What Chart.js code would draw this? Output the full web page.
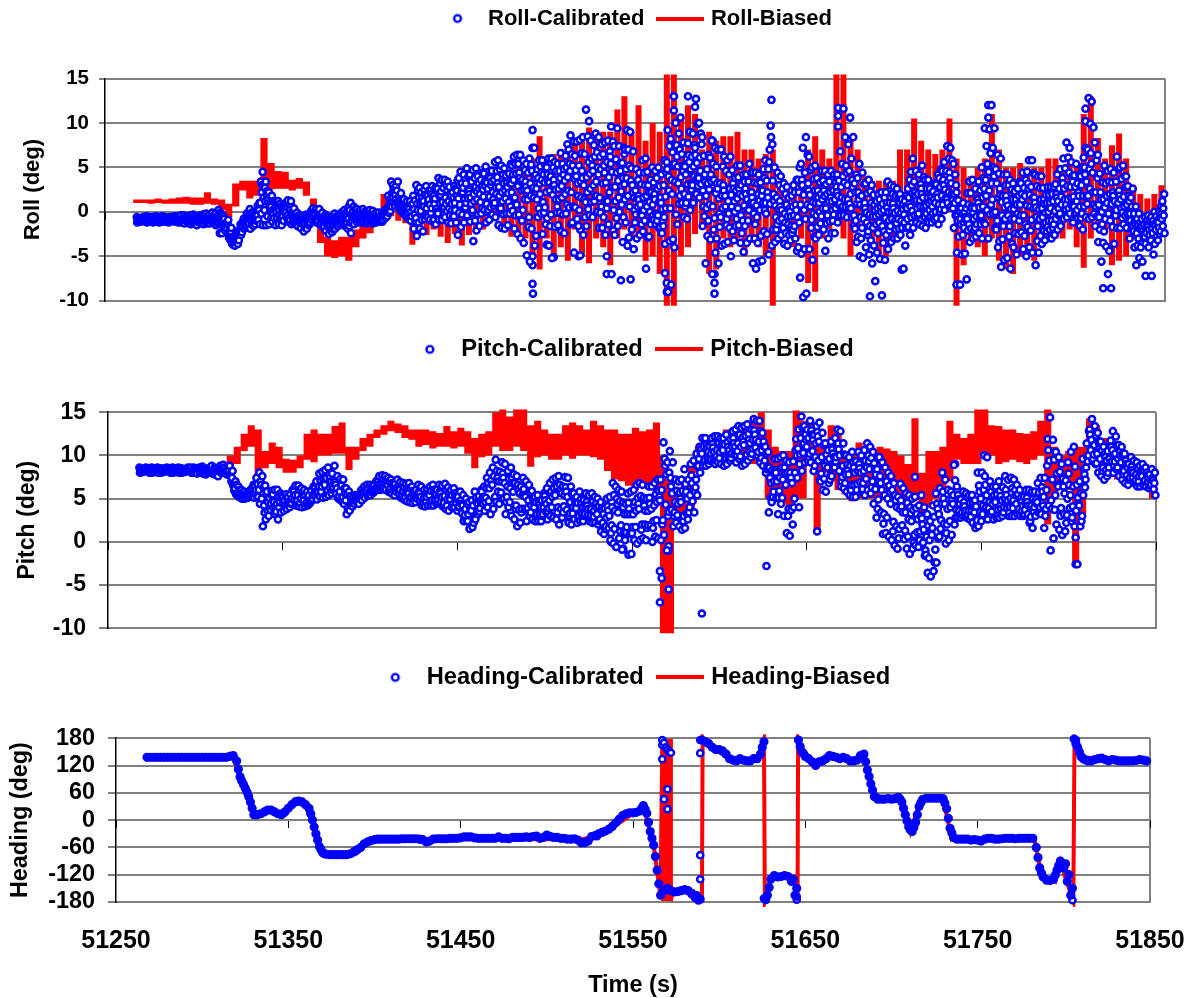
<!DOCTYPE html>
<html>
<head>
<meta charset="utf-8">
<title>Roll, pitch and heading</title>
<script src="https://cdn.jsdelivr.net/npm/chart.js@4/dist/chart.umd.min.js"></script>
<style>
  html, body { margin: 0; padding: 0; background: #fff; }
  body { position: relative; width: 1189px; height: 998px; overflow: hidden; }
  canvas { position: absolute; left: 0; }
</style>
</head>
<body>
<canvas id="rollChart" width="1189" height="332" style="top:-9px"></canvas>
<canvas id="pitchChart" width="1189" height="334" style="top:321px"></canvas>
<canvas id="headingChart" width="1189" height="352" style="top:646px"></canvas>
<script>
/* global document, Chart */

const xTicks = [51250, 51350, 51450, 51550, 51650, 51750, 51850];
const rollTicks = [-10, -5, 0, 5, 10, 15];
const pitchTicks = [-10, -5, 0, 5, 10, 15];
const headingTicks = [-180, -120, -60, 0, 60, 120, 180];

// sample times, 2 s apart
const time = [
  51268,51270,51272,51274,51276,51278,51280,51282,51284,51286,51288,51290,51292,51294,51296,51298,51300,51302,51304,51306,
  51308,51310,51312,51314,51316,51318,51320,51322,51324,51326,51328,51330,51332,51334,51336,51338,51340,51342,51344,51346,
  51348,51350,51352,51354,51356,51358,51360,51362,51364,51366,51368,51370,51372,51374,51376,51378,51380,51382,51384,51386,
  51388,51390,51392,51394,51396,51398,51400,51402,51404,51406,51408,51410,51412,51414,51416,51418,51420,51422,51424,51426,
  51428,51430,51432,51434,51436,51438,51440,51442,51444,51446,51448,51450,51452,51454,51456,51458,51460,51462,51464,51466,
  51468,51470,51472,51474,51476,51478,51480,51482,51484,51486,51488,51490,51492,51494,51496,51498,51500,51502,51504,51506,
  51508,51510,51512,51514,51516,51518,51520,51522,51524,51526,51528,51530,51532,51534,51536,51538,51540,51542,51544,51546,
  51548,51550,51552,51554,51556,51558,51560,51562,51564,51566,51568,51570,51572,51574,51576,51578,51580,51582,51584,51586,
  51588,51590,51592,51594,51596,51598,51600,51602,51604,51606,51608,51610,51612,51614,51616,51618,51620,51622,51624,51626,
  51628,51630,51632,51634,51636,51638,51640,51642,51644,51646,51648,51650,51652,51654,51656,51658,51660,51662,51664,51666,
  51668,51670,51672,51674,51676,51678,51680,51682,51684,51686,51688,51690,51692,51694,51696,51698,51700,51702,51704,51706,
  51708,51710,51712,51714,51716,51718,51720,51722,51724,51726,51728,51730,51732,51734,51736,51738,51740,51742,51744,51746,
  51748,51750,51752,51754,51756,51758,51760,51762,51764,51766,51768,51770,51772,51774,51776,51778,51780,51782,51784,51786,
  51788,51790,51792,51794,51796,51798,51800,51802,51804,51806,51808,51810,51812,51814,51816,51818,51820,51822,51824,51826,
  51828,51830,51832,51834,51836,51838,51840,51842,51844,51846,51848
];

// roll calibrated, eight readings per sample window
const rollCalA = [
  -.6,-.6,-.5,-.6,-.6,-.5,-.6,-.5,-.6,-.6,-.5,-.6,-.4,-.4,-.5,-.4,-.3,-.4,-.3,-.2,
  -.4,-.1,-.2,.2,-.3,-.9,-1.8,-2.8,-2.2,-1.4,-.8,-.2,.3,-.2,1,4.5,3.4,2.2,1.8,1.1,
  1.2,.9,1.3,1.2,.4,-.1,-.4,-.5,-.3,.4,.3,.3,-.1,-.3,-.6,-.6,-.2,-.1,.2,.1,
  1,.6,.3,.2,.3,.2,.1,-.1,-.1,-.2,.2,1.8,3.4,3.4,2.1,1.4,1.2,1.2,1.8,3,
  2.7,2.9,2.4,2.9,2.7,3.8,3.6,3.6,3.4,2.9,3.5,4.5,4.2,4.9,4.2,4.7,4.9,4.4,5.1,4,
  4.6,5.6,5.8,5.2,4.9,5.4,6.2,6.4,6.4,5.8,5.4,6,9.2,5.8,5.8,5.2,6,6,5.6,5.4,
  6.6,7.6,8.6,7.9,7.9,8.1,8.4,11.5,10.2,8.8,8.4,7.6,7.8,8,9.6,7.4,9.4,7.2,9.2,9,
  6.8,4.8,4.4,5.8,6,5,4.6,5,4.2,5.8,9.2,8.2,13,10.6,7.8,6,9,8.8,12.7,10,
  8.4,6.4,8,7.2,7,7,6.2,5.8,6.2,5.2,5.2,4.2,4.2,5.4,4.4,4.4,4.2,5.8,4.8,12.6,
  5,4.4,4,3.2,2.8,3,3.6,5,7.2,8.4,6.2,5,5.2,4.6,4.6,4.2,4.6,4.2,4.2,6.8,
  11.6,10.6,8.4,4.2,5.4,4.4,3.2,3.6,3,2,2.2,1.6,3.4,3,2.8,2.6,2,1.8,3.6,6,
  4.6,4.2,5.2,3.6,3.6,3.2,4.2,4.8,5.6,7.4,7.2,5.4,2.2,1,.4,3.4,3.6,2.6,3.4,5,
  9.4,12,9.4,6.4,6,4.2,4.2,3.6,3.2,3.4,4.4,3.6,5.8,5.8,4.2,4,4,2.8,2.8,2.8,
  4.2,4.8,6,7.8,7.2,5.4,4.2,5,7.2,12.8,12.4,7.8,6.4,5.2,4.6,4.8,4.4,6.2,5,5.2,
  4,2.6,.6,-.2,-.8,-.6,-.4,-.6,0,.6,2
];
const rollCalB = [
  -.8,-.8,-.8,-.7,-.8,-.8,-.7,-.8,-.8,-.7,-.8,-.8,-.7,-.7,-.7,-.6,-.6,-.7,-.5,-.6,
  -.7,-.6,-.9,-.5,-.8,-1.4,-2.4,-3.3,-2.8,-2,-1.2,-.7,-.5,-.6,.4,2.2,2.7,1.2,.6,.7,
  .6,.3,.6,.2,-.3,-.6,-.7,-.9,-.7,-.2,-.2,-.3,-.6,-.8,-1,-1.1,-.8,-.7,-.4,-.6,
  .2,-.1,-.3,-.4,-.2,-.3,-.5,-.5,-.6,-.6,-.1,1,2.6,2.4,1.2,.8,.6,.4,.8,1.6,
  1.6,1.9,1.1,2,.9,2.6,1.9,2.4,2.1,1.6,1.8,3,2.2,3.2,2.4,2.8,3.2,2.8,3.4,2.6,
  3,3.6,3.9,3.2,3.3,3.2,4.2,4.3,4.4,3.6,3.4,4.6,3.8,3.8,4.4,3.3,4.2,4,3.6,3.8,
  4.2,5,5.4,5.2,4.7,5.2,4.6,5.6,6,6.2,5,4.8,5.2,5.6,6.2,4.4,5.4,3.8,4.8,5.2,
  3,2.4,1.8,3,3,2.2,2,2.6,1.6,3,5.6,5.2,7.5,7,5.2,4.2,6.4,6.2,7.2,7.6,
  4.2,3.2,4.2,3.6,3.2,3.2,3,2.6,3.2,2.4,2.6,1.8,2.6,3.4,2.2,2,2.4,3.8,2.2,9.7,
  2,1.6,1.2,.8,.4,.6,.8,2.2,3.6,4.4,3.2,2.4,2.4,2,2.4,2,2.2,2.4,2.8,4,
  5.2,4.6,3.6,2.2,2.2,1.8,1,1,.8,.4,.6,.2,1,1,.9,1,.8,.6,1.6,3,
  2.2,2,2.6,1.6,1.6,1.4,2,2.8,3.6,4.6,4.4,3,.4,-.2,-.6,.8,.6,.4,1.4,2.6,
  5.4,6.6,5,3.2,2.6,1.8,1.8,1.4,1.4,1.8,2,1.8,3.2,2.8,1.6,1.4,1.4,1,1,1.2,
  2,2.6,3.8,4.4,4,2.8,2.2,3,5,7,6.6,3.8,2.2,1.4,1.8,2,2.2,3.4,2.4,2.8,
  1.8,.6,-1,-1.4,-1.6,-1.4,-1.4,-1.4,-1,-.6,.4
];
const rollCalC = [
  -1,-.9,-1,-1,-.9,-1,-1,-.9,-1,-1,-.9,-1,-1,-.9,-1,-.9,-1,-1,-.9,-1,
  -1,-.9,-1.1,-.9,-1.2,-1.7,-2.9,-3.6,-3.2,-2.3,-1.5,-1.1,-1,-1.2,-.4,1,1.9,.3,-.3,0,
  -.3,-.5,-.1,-.7,-.9,-1.1,-1.1,-1.4,-1.2,-.7,-.7,-.9,-1.1,-1.3,-1.5,-1.7,-1.4,-1.2,-1,-1.1,
  -.9,-.8,-.8,-.9,-.8,-.9,-1,-1,-1,-.9,-.4,.3,1.6,1.4,.6,.2,-.2,-.5,-.3,.2,
  .1,.6,-.3,.8,-.4,1,.3,.9,.4,.2,.2,1.5,.6,1.5,.9,1.2,1.4,1.1,1.7,.9,
  1.4,2,1.8,1.2,1.5,1.1,2.2,1.6,2.4,1.4,1.4,1.8,1.6,1.4,2,1.1,2.4,1.9,1.4,1.4,
  1.6,2,2.4,2.2,1.8,1.6,1.4,2.2,2.6,3,1.8,1.6,1.4,2.2,2.8,1.2,1.6,.8,1.4,1.8,
  .2,.6,-.3,.2,.6,0,-.4,-.2,-1,.4,2.4,2,3.4,3.2,2.6,2,3.2,4,3.8,4.6,
  .6,.4,.8,.6,-.2,.4,.6,-.2,.6,0,.4,-.4,.2,1,-.2,-.6,.2,1,-.2,5.6,
  -.6,-1,-.8,-1.2,-1.4,-1.6,-1.6,-.6,.2,.8,.6,-.2,-.4,0,.4,.4,.2,.4,.8,1.6,
  1.4,1.4,.4,-.4,-.6,-.8,-1.2,-1.6,-1.8,-1.4,-1.2,-1.6,-1,-.8,-1,-.8,-1,-1.2,-.8,.6,
  .4,.6,.6,-.2,.2,-.2,0,.8,1.4,2.2,2,1,-1,-1.4,-1.8,-.8,-.8,-1.4,-.4,.6,
  1.8,2.4,1.4,0,-.4,-.8,-.4,-.8,-.8,-.2,-.4,-.4,.6,.4,-.6,-.8,-.6,-1.2,-1,-1,
  .4,.8,1.4,1.4,1.6,.6,.2,.6,1.8,2.6,2.2,.6,-.6,-1.4,-.8,-.2,.2,1,.4,.6,
  -.2,-1,-2.2,-2.4,-2.6,-2.4,-2.6,-2.4,-2,-1.8,-.8
];
const rollCalD = [
  -1.2,-1.1,-1.2,-1.1,-1.2,-1.1,-1.2,-1.1,-1.1,-1.2,-1.1,-1.2,-1.2,-1.3,-1.2,-1.4,-1.3,-1.5,-1.4,-1.3,
  -1.3,-1.1,-1.5,-1.2,-2.4,-2.1,-3.3,-3.8,-3.6,-2.6,-1.9,-1.5,-1.9,-1.6,-1.4,-1.5,-1.5,-1.4,-1.1,-1.5,
  -1.4,-1.5,-1.1,-1.4,-1.3,-1.6,-1.8,-2.2,-1.9,-1.2,-1.2,-1.4,-1.7,-2.1,-2.5,-2.3,-1.9,-1.6,-1.6,-1.9,
  -2.4,-1.4,-1.2,-1.2,-1.2,-1.3,-1.3,-1.2,-1.1,-1.1,-.7,-.1,.6,.7,.1,-.3,-.7,-1,-1.9,-2.7,
  -1.9,-2.2,-.9,-1.1,-1.4,-.9,-.9,-.6,-1.2,-1.3,-2.6,-1.7,-1.2,-.4,-1.1,-3.3,-2.1,-1.6,-1.2,-.9,
  -.3,-.6,-1.5,-1.8,-1.9,-1.5,-1.9,-2.5,-3,-3.5,-4.9,-5.6,-9.2,-2.7,-2.5,-1.4,-3.8,-5.2,-1.7,-1.5,
  -2.2,-2.4,-1.4,-4.6,-.8,-4.9,-2.6,-1.6,-.4,-.6,-1.8,-1.8,-2.6,-1.4,-7,-2.6,-1.6,-7.7,-3.8,-7.6,
  -4.2,-3,-2.6,-2.2,-6.4,-2.8,-1.4,-1.8,-2.4,-3.6,-9,-8.2,-4,-1.4,-.6,-.8,.2,1,2,1.6,
  -1.6,-5.8,-7,-4.6,-5.8,-3.8,-3.6,-3.4,-5,-3.2,-3.5,-4.5,-3.5,-3,-5.8,-6.4,-5.6,-5.5,-4.8,-3.8,
  -3.4,-3,-2.6,-3.6,-3.8,-3.2,-4.4,-7.4,-9.6,-9.2,-4.2,-5.4,-3,-2.6,-4.4,-3,-2.4,-2.4,-1.2,-.4,
  -.4,-.6,-1.6,-3.4,-5,-5.2,-4,-4.8,-5.8,-7.8,-9.4,-5.4,-4.2,-3.4,-3,-3,-2.6,-6.4,-2.6,-1.8,
  -1.2,-1.4,-1.6,-1.8,-1.2,-1.2,-1.4,-.8,.2,1,.6,-1.8,-4.6,-8.2,-7.6,-3.4,-3,-2.8,-2.4,-3,
  -1.4,-3,-1.8,-4,-6.2,-5.4,-5.2,-6.4,-4,-4.8,-4.2,-5,-4,-4.6,-6,-4.6,-3.6,-3.2,-3,-2.6,
  -2,-1.6,-.8,-.6,-.2,-1.2,-1.6,-2,-.6,-.8,-.6,-1.6,-3.4,-5.6,-7,-8.6,-3.6,-1.8,-1.8,-1.4,
  -1.8,-3,-6,-5.2,-5.6,-3.6,-4,-7.2,-3.6,-3.2,-2.4
];
const rollCalE = [
  -.7,-.7,-.7,-.6,-.7,-.7,-.6,-.7,-.7,-.6,-.7,-.7,-.5,-.6,-.6,-.5,-.5,-.5,-.4,-.4,
  -.5,-.4,-.5,-.1,-.5,-1.2,-2.1,-3,-2.5,-1.7,-1,-.4,-.1,-.4,.7,3.4,3,1.7,1.2,.9,
  .9,.6,1,.7,0,-.4,-.5,-.7,-.5,.1,0,0,-.4,-.5,-.8,-.8,-.5,-.4,-.1,-.2,
  .6,.3,0,-.1,0,0,-.2,-.3,-.3,-.4,0,1.4,3,2.9,1.6,1.1,.9,.8,1.3,2.4,
  2.2,2.5,1.8,2.5,1.8,3.2,2.7,3,2.8,2.2,2.6,3.8,3.2,4,3.4,3.8,4,3.6,4.3,3.3,
  3.8,4.6,4.8,4.2,4.1,4.3,5.2,5.4,5.4,4.7,4.4,5.3,7.2,4.8,5.1,4.2,5,5,4.6,4.6,
  5.4,6.3,7,6.5,6.3,6.6,6.5,8.5,8,7.5,6.7,6.2,6.5,6.8,7.9,5.9,7.4,5.5,7,7,
  4.9,3.6,3.1,4.4,4.5,3.6,3.3,3.8,2.9,4.4,7.4,6.7,10,8.8,6.5,5.1,7.7,7.5,9.9,8.8,
  6.3,4.8,6.1,5.4,5.1,5.1,4.6,4.2,4.7,3.8,3.9,3,3.4,4.4,3.3,3.2,3.3,4.8,3.5,7,
  3.5,3,2.6,2,1.6,1.8,2.2,3.6,5.4,6.4,4.7,3.7,3.8,3.3,3.5,3.1,3.4,3.3,3.5,5.4,
  8.4,7.6,6,3.2,3.8,3.1,2.1,2.3,1.9,1.2,1.4,.9,2.2,2,1.8,1.8,1.4,1.2,2.6,4.5,
  3.4,3.1,3.9,2.6,2.6,2.3,3.1,3.8,4.6,6,5.8,4.2,1.3,.4,-.1,2.1,2.1,1.5,2.4,3.8,
  7.4,9.3,7.2,4.8,4.3,3,3,2.5,2.3,2.6,3.2,2.7,4.5,4.3,2.9,2.7,2.7,1.9,1.9,2,
  3.1,3.7,4.9,6.1,5.6,4.1,3.2,4,6.1,9.9,9.5,5.8,4.3,3.3,3.2,3.4,3.3,4.8,3.7,4,
  2.9,1.6,-.2,-.8,-1.2,-1,-.9,-1,-.5,0,1.2
];
const rollCalF = [
  -1.1,-1,-1.1,-1,-1.1,-1,-1.1,-1,-1,-1.1,-1,-1.1,-1.1,-1.1,-1.1,-1.2,-1.1,-1.2,-1.2,-1.1,
  -1.1,-1,-1.3,-1,-1.8,-1.9,-3.1,-3.7,-3.4,-2.4,-1.7,-1.3,-1.4,-1.4,-.9,-.2,.2,-.5,-.7,-.7,
  -.8,-1,-.6,-1,-1.1,-1.3,-1.4,-1.8,-1.5,-.9,-.9,-1.1,-1.4,-1.7,-2,-2,-1.6,-1.4,-1.3,-1.5,
  -1.6,-1.1,-1,-1,-1,-1.1,-1.1,-1.1,-1,-1,-.5,.1,1.1,1,.3,-.1,-.4,-.7,-1.1,-1.2,
  -.9,-.8,-.6,-.1,-.9,0,-.3,.1,-.4,-.5,-1.2,-.1,-.3,.5,-.1,-1,-.3,-.2,.2,0,
  .5,.7,.2,-.3,-.2,-.2,.1,-.4,-.3,-1,-1.7,-1.9,-3.8,-.6,-.2,-.1,-.7,-1.6,-.1,-.1,
  -.3,-.2,.5,-1.2,.5,-1.6,-.6,.3,1.1,1.2,0,-.1,-.6,.4,-2.1,-.7,0,-3.4,-1.2,-2.9,
  -2,-1.2,-1.4,-1,-2.9,-1.4,-.9,-1,-1.7,-1.6,-3.3,-3.1,-.3,.9,1,.6,1.7,2.5,2.9,3.1,
  -.5,-2.7,-3.1,-2,-3,-1.7,-1.5,-1.8,-2.2,-1.6,-1.5,-2.4,-1.6,-1,-3,-3.5,-2.7,-2.2,-2.5,.9,
  -2,-2,-1.7,-2.4,-2.6,-2.4,-3,-4,-4.7,-4.2,-1.8,-2.8,-1.7,-1.3,-2,-1.3,-1.1,-1,-.2,.6,
  .5,.4,-.6,-1.9,-2.8,-3,-2.6,-3.2,-3.8,-4.6,-5.3,-3.5,-2.6,-2.1,-2,-1.9,-1.8,-3.8,-1.7,-.6,
  -.4,-.4,-.5,-1,-.5,-.7,-.7,0,.8,1.6,1.3,-.4,-2.8,-4.8,-4.7,-2.1,-1.9,-2.1,-1.4,-1.2,
  .2,-.3,-.2,-2,-3.3,-3.1,-2.8,-3.6,-2.4,-2.5,-2.3,-2.7,-1.7,-2.1,-3.3,-2.7,-2.1,-2.2,-2,-1.8,
  -.8,-.4,.3,.4,.7,-.3,-.7,-.7,.6,.9,.8,-.5,-2,-3.5,-3.9,-4.4,-1.7,-.4,-.7,-.4,
  -1,-2,-4,-3.8,-4,-3,-3.3,-4.8,-2.8,-2.5,-1.6
];
const rollCalG = [
  -.9,-.8,-.9,-.8,-.9,-.8,-.9,-.8,-.9,-.8,-.9,-.8,-.8,-.9,-.8,-.7,-.8,-.8,-.7,-.8,
  -.8,-.7,-1,-.7,-1,-1.5,-2.6,-3.4,-3,-2.1,-1.3,-.9,-.7,-.9,0,1.6,2.3,.7,.2,.3,
  .2,-.1,.3,-.2,-.6,-.8,-.9,-1.1,-.9,-.4,-.4,-.6,-.8,-1,-1.2,-1.4,-1.1,-.9,-.7,-.8,
  -.3,-.4,-.5,-.6,-.5,-.6,-.7,-.7,-.8,-.7,-.2,.7,2.1,1.9,.9,.5,.2,0,.3,.9,
  .9,1.2,.4,1.4,.3,1.8,1.1,1.6,1.2,.9,1,2.2,1.4,2.4,1.6,2,2.3,2,2.5,1.7,
  2.2,2.8,2.8,2.2,2.4,2.1,3.2,2.9,3.4,2.5,2.4,3.2,2.7,2.6,3.2,2.2,3.3,2.9,2.5,2.6,
  2.9,3.5,3.9,3.7,3.2,3.4,3,3.9,4.3,4.6,3.4,3.2,3.3,3.9,4.5,2.8,3.5,2.3,3.1,3.5,
  1.6,1.5,.8,1.6,1.8,1.1,.8,1.2,.3,1.7,4,3.6,5.4,5.1,3.9,3.1,4.8,5.1,5.5,6.1,
  2.4,1.8,2.5,2.1,1.5,1.8,1.8,1.2,1.9,1.2,1.5,.7,1.4,2.2,1,.7,1.3,2.4,1,7.6,
  .7,.3,.2,-.2,-.5,-.5,-.4,.8,1.9,2.6,1.9,1.1,1,1,1.4,1.2,1.2,1.4,1.8,2.8,
  3.3,3,2,.9,.8,.5,-.1,-.3,-.5,-.5,-.3,-.7,0,.1,-.1,.1,-.1,-.3,.4,1.8,
  1.3,1.3,1.6,.7,.9,.6,1,1.8,2.5,3.4,3.2,2,-.3,-.8,-1.2,0,-.1,-.5,.5,1.6,
  3.6,4.5,3.2,1.6,1.1,.5,.7,.3,.3,.8,.8,.7,1.9,1.6,.5,.3,.4,-.1,0,.1,
  1.2,1.7,2.6,2.9,2.8,1.7,1.2,1.8,3.4,4.8,4.4,2.2,.8,0,.5,.9,1.2,2.2,1.4,1.7,
  .8,-.2,-1.6,-1.9,-2.1,-1.9,-2,-1.9,-1.5,-1.2,-.2
];
const rollCalH = [
  -.9,-1,-.8,-.9,-1,-.9,-.8,-1,-.9,-.9,-1,-.8,-.9,-1,-.8,-1,-.9,-1.1,-.7,-.9,
  -.9,-.5,-1.2,-.4,-1.5,-1.1,-2.2,-3.5,-2.6,-2.2,-1.1,-1.2,-.2,-1,.2,3,1.2,1.5,-.6,.4,
  -.8,0,-.4,.9,-.6,-.9,-1.2,-.6,-1.4,-.1,-.8,-.1,-.9,-.6,-1.7,-1,-.5,-1.1,-.2,-1.2,
  -1.2,.1,-.6,-.2,-.6,-.1,-.7,-.4,-.9,-.3,-.3,.5,2.2,1,1.3,.1,.5,-.8,.9,-.7,
  1,-.4,1.4,.4,1.5,-.2,2.3,.5,1.7,-.5,2.4,.8,2.7,1,2,.2,2.6,.4,2.9,.2,
  3.4,1,3.2,.4,2.8,.6,3.6,.8,3.8,.2,2.8,-.6,4.2,.4,3.6,.5,3.4,-.3,3,.6,
  4.8,.8,4.6,.6,4,.2,3.8,1.1,5.2,1.8,4.2,.6,4.4,1.2,5.4,.2,4.6,-.6,3.8,.6,
  2.2,-.3,1.4,-.4,2.2,-.8,1.4,-.4,1,-.6,4.8,.4,6.2,1.8,4.6,1,5.6,3,6.4,3.8,
  3.4,-1,3.4,-.7,2.6,-.6,2.4,-.8,2.6,-.8,2,-1,2,.2,1.6,-1.4,1.8,.2,1.6,8.4,
  1.2,-1.4,.6,-1.8,0,-2,.2,-1.2,3,-.8,2.4,-.9,1.6,-.5,1.8,-.4,1.6,-.3,2.2,1,
  4.4,.9,2.8,-1,1.4,-1.8,.4,-2.2,.2,-2.4,0,-2.2,.5,-1.6,.4,-1.3,.3,-1.8,.9,.1,
  1.8,-.2,2,-.6,1.2,-.9,1.6,.3,3,1.4,3.8,.4,0,-2.6,-.9,-1.4,.4,-1.8,1,-.4,
  4.6,.8,4,-1,1.9,-1.6,1.2,-1.6,.8,-1,1.4,-1.4,2.6,-.9,1,-1.6,.9,-1.7,.4,-1.4,
  1.6,-.2,3.2,.8,3.4,-.1,1.8,-.2,4.2,1.8,5.4,-.2,1.4,-2.2,1,-1,1.8,.2,1.8,-.1,
  1.2,-1.5,-1.4,-3,-1.8,-2.8,-1.7,-3.2,-1.2,-2.2,-.4
];
// outliers that sit off the cloud
const rollStrayTime = [51492,51492,51492,51492,51518,51504,51500,51534,51534,51544,51568,51568,51567,51572,51572,51580,51584,51595,51595,51595,51594,51665,51665,51665,51683,51750,51750,51750,51805,51805,51732,51701,51815,51839,51519,51315];
const rollStrayValue = [-8.1,-6,-5,7.2,-5,-5.1,-3.7,-7,-5,6.5,-9,-8,-6.9,13,11.4,13,11.8,-9.2,-8,-7,8,11.7,10.8,9.6,-9.5,12,10.6,9.3,11.6,10.2,-8.2,-6.5,-8.6,-7.2,-2,-2.4];

// roll biased, top and bottom of the trace every 4 s
const rollBiasedHigh = [
  1.4,1.4,1.4,1.5,1.4,1.5,1.6,1.7,1.6,1.6,
  2.2,1.5,1.4,.9,3.2,3.5,3.5,3.5,8.3,5.5,
  4.6,4.5,3.6,3.8,3.4,1.5,-1,-2.8,-3.2,-2.8,
  -2.8,-2,-1.2,-.8,0,2,1,.8,.6,.8,
  1.5,2,2.5,2.5,3,3,3,3.5,3,3,
  3,3.5,4,4,5,5,6,8.5,6,6.5,
  7,7.5,8,8.5,9.5,8.5,9,9,11.5,13,
  9,12,8,10,9,15.5,17,11,12,11,
  7,9,8,8.5,8.5,9,7,7,6,6.5,
  7,3,3,3,4,7,8.5,7,6,17,
  17,8,7,4,3.5,3.5,3.5,3.5,7,7,
  10.5,8,7,6.5,7,10.5,6,5,4,5,
  6,11,7,5,5,5.5,5,5,5,6,
  6,5,6.5,5.5,11,13,8.3,6,7.5,8.8,
  6,3,2,1.5,2,3
];
const rollBiasedLow = [
  1,1,.9,1,.9,.9,.9,.9,.8,.8,
  .9,.8,.2,-.6,.6,2.4,1.5,1.8,3,2.5,
  2.6,2.6,2.4,2.6,1.8,-1,-3.5,-5,-5.2,-5,
  -5.5,-4,-3,-2.4,-1.5,0,-.5,-1,-1.3,-3.7,
  -2.4,-2.6,-2,-2.8,-3.5,-2.5,-3.8,-2.6,-2.4,-2,
  -1,-.6,-2,-2.8,-2.5,-3,-5,-6.5,-3,-5.5,
  -4,-5.5,-2,-5,-5.8,-3,-4,-6,-3,-2,
  -3,-3,-5.5,-5,-7,-11,-11,-5,-4,-2.5,
  -2,-7,-6.5,-3,-4,-3,-5,-3.5,-4,-5,
  -11,-3.5,-2.5,-4,-3,-8,-9,-3,-2,-1,
  -3,-5,-2,-2,-4,-5,-5,-3,-3,-1,
  -1,-.5,-1,-1,0,0,-11,-6,-3,-4,
  -5,-3,-5.5,-6.5,-7,-5,-5,-5.5,-3.5,-3,
  -3,-3,-2,-4,-6.3,-3,-2,-2,-6,-5.5,
  -5,-3,-2,-1,-1,-1
];

// pitch calibrated, six readings per sample window
const pitchCalA = [
  8.6,8.6,8.5,8.6,8.5,8.6,8.5,8.6,8.5,8.6,8.5,8.6,8.5,8.6,8.6,8.6,8.5,8.6,8.7,8.5,
  8.8,8.6,8.5,8.8,8.9,8.8,8.2,7,6.4,6,5.8,6,6.6,7.4,8,7.6,6.5,5.9,6,6,
  5.6,5.2,5.5,6,6.5,6.5,6.2,6,5.8,6.4,7,7.9,8.1,8.3,8.6,8.8,7.6,7.3,7.2,6.2,
  5.8,5.4,5.4,6,6.4,6.6,6.6,7,7.6,7.7,7.6,7.4,7.2,7.2,6.9,6.8,6.7,6.8,6.4,6.6,
  6.4,6,6,6.4,6.6,6.6,6.5,6.7,6.3,6,6.2,5.8,5.4,5,4.6,4.8,5.8,6,6.4,7.4,
  8,8.6,9.5,9.2,9,8.2,8.6,7.8,7.6,7.4,7,6.6,5.9,5.2,5.4,5.6,6.2,6.8,7.2,7.4,
  7.6,7.5,7.4,6.4,5.6,5.2,5.8,5.6,5.4,5.6,5.2,5,4.6,5,5.2,6.8,6.4,6,5.8,5.6,
  5.8,6,6.6,6.8,6.6,6.4,6.4,6.8,7.2,7.2,11.5,10.5,9.2,7.2,7,7.2,8.4,9,9.4,10.2,
  11,12,12,12,12.2,12.2,12,12,12.4,12.8,13,13.4,13.2,13.4,13.6,14.2,14,14,12.6,11,
  10.4,9.6,9.6,9.8,10,9.4,9.2,10.6,13,14.5,13.4,13,14,13.4,13.8,12.6,11.4,10.6,11.6,13,
  12.8,11.4,10,9.8,10.4,10.4,10,10.6,11.4,11,10.4,9.8,9.2,8.6,8,7.6,6.8,6.7,6.2,5.6,
  5.4,5,5.2,5.4,4,3.2,2.4,4.2,5.6,8,7.2,6,5.8,8.9,6.4,5.8,5.6,5.4,5.4,4.8,
  8,10,9.8,7,6.4,6.4,7,7.6,7.2,7.4,7.2,6.6,6,6,6,5.8,5.8,6.8,7.4,8.8,
  14.4,11.8,10.4,9.8,9,9.2,10.4,11,6.6,7,9.6,12.8,14.2,13.4,12.6,11.6,11,11.4,12.8,12.2,
  11.2,11,10.2,9.8,9.4,9.2,8.8,9,8.6,8.4,8
];
const pitchCalB = [
  8.3,8.3,8.3,8.3,8.3,8.3,8.3,8.3,8.3,8.3,8.3,8.3,8.3,8.3,8.3,8.3,8.3,8.3,8.3,8.2,
  8.2,8.2,8.2,8.2,8.3,8.2,7.4,6.2,5.6,5.4,5.3,5.4,5.6,6,6,5,4.6,4.4,4.6,4.4,
  4.6,4.4,4.6,5,5.4,5.4,5,4.8,4.6,5.4,5.8,6.4,6.4,6.6,7,7,6.2,5.8,5.2,4.8,
  4.8,4.8,4.9,5.4,5.6,5.8,6,6.2,6.6,6.8,6.8,6.6,6.4,6.2,6,5.8,5.7,5.6,5.4,5.4,
  5.2,5,5.2,5.4,5.5,5.4,5.2,5.3,4.9,4.9,5,4.6,4.2,3.8,3.2,3.6,4.4,4.6,5.2,6.2,
  6.2,6.6,7,7,6.8,6.4,6.2,5.8,5.6,5.4,5.2,4.8,4.2,4,4,4,4.4,4.8,5.2,5.4,
  5.6,5.4,5.2,4.6,4,3.9,4,4,3.8,3.8,3.6,3.2,3.2,2.8,3,4,3.6,3.4,3.2,3.2,
  3.2,3.2,3.6,3.8,3.6,3.6,3.8,4.2,4.6,4.8,7.8,8,5.6,4.6,4.4,4.6,5,5.4,6,7.2,
  9.6,10.2,10.4,10.2,10.4,10.6,10.4,10.6,10.6,11,11,11.4,11,11.2,11.4,11.8,11.8,11.6,10.6,9.4,
  6.8,7,7,7.4,7.2,6.6,6.8,8,10.8,12,11.4,11,11.8,11.4,11.6,9.8,8.8,8.6,9.8,11,
  10,8.8,7.8,7.8,8,8.2,8,8.2,8.6,8.4,7.8,7,6,5.4,5,4.4,4,3.8,3.4,3.4,
  2.6,2.4,2.6,3,1.4,.6,.2,1.6,3.2,4.4,4.4,3.8,4,5.4,4.4,4,3.6,3.6,3.6,3.4,
  5,6,5.4,4.6,4.4,4.6,4.8,5,4.8,5,4.8,4.4,4.2,4.4,4.2,4.2,4,4.6,5.2,6,
  9.4,7.2,5.4,6.4,5.6,5,5.4,6.4,3.6,4.2,7.2,10,11.8,11.2,10.2,9.6,9.4,9.6,10.6,10.2,
  9.6,9.2,8.6,8.2,8,7.8,7.6,7.6,7.4,7.2,6.8
];
const pitchCalC = [
  8,8.1,8,8,8.1,8,8,8.1,8,8,8.1,8,8,8.1,8,8,7.9,8,7.9,7.8,
  7.9,7.8,7.6,8,8,7.8,6.6,5.5,5.2,5,5,5.1,5.1,5.2,4.4,1.8,2.6,3,3.2,2.6,
  3.4,3.6,3.8,4,4.2,4.1,4,4.1,4.2,4.6,4.9,5.2,5.1,5.2,5.4,5.6,5.1,4.8,4.4,3.2,
  3.6,4.1,4.4,4.8,5.1,5.3,5.4,5.7,6,6.1,6,5.8,5.6,5.4,5.1,4.9,4.7,4.6,4.5,4.6,
  4.2,4.1,4.2,4.2,4.2,4.4,4.1,3.8,3.6,4,4,3.6,2.4,2.4,1.5,1.7,2.6,3.2,3.6,4,
  3.2,3.8,4.6,4.4,3.2,4,3,2.6,1.8,2.2,2.4,3,2.6,2.4,2.4,2.4,2.6,3,2.8,2.6,
  2,2.8,2.2,2,2.6,2.2,2.4,2.4,2.4,2.2,2.2,2,1.2,.9,.2,-.2,-.6,.4,-.9,.2,
  -1.4,.2,-.2,.2,.4,.2,0,.6,.4,.2,.8,-1,1.8,2.2,1.8,1.4,1.6,2.6,3.4,5.4,
  8,8.8,8.8,9,9,9.2,9,8.8,9,9.4,9.2,9.6,8.8,9,9.4,9.8,10,9.2,8.8,8,
  3.4,4.6,3.2,4.4,3,1,.7,2,4,8.2,9.2,9.4,9.2,8.2,7.2,6,5.8,6.8,7.6,8.6,
  6.4,6.2,5.8,5.4,5.2,5.2,5.8,5.4,6,5.6,4.4,2.8,.9,1,.6,.2,-.4,-.8,.4,-.8,
  -1.4,-.8,-.4,-.6,-1.6,-3.6,-4,-3.4,-2.4,.6,-.2,.2,.8,2,2.8,2.8,2.8,2.6,2.2,1.6,
  1.8,2.4,2.6,3.2,2.6,2.8,2.8,3,3,3,3,3.2,3,3,2.2,1.6,3,3.4,3.2,1.6,
  -1,.4,2,1.4,.8,1.2,2.4,1.8,-2.6,1.8,5.4,8.6,9.4,9,8,7.6,7.2,7.6,8,8.4,
  7.6,7.2,6.8,6.6,6.8,6.4,6.4,6.6,6.4,6.2,5.4
];
const pitchCalD = [
  8.5,8.4,8.4,8.5,8.4,8.4,8.4,8.5,8.4,8.4,8.4,8.5,8.4,8.4,8.5,8.4,8.4,8.5,8.5,8.4,
  8.5,8.4,8.4,8.5,8.6,8.5,7.8,6.6,6,5.7,5.5,5.7,6.1,6.7,7,6.3,5.5,5.1,5.3,5.2,
  5.1,4.8,5,5.5,6,6,5.6,5.4,5.2,5.9,6.4,7.1,7.2,7.4,7.8,7.9,6.9,6.5,6.2,5.5,
  5.3,5.1,5.1,5.7,6,6.2,6.3,6.6,7.1,7.2,7.2,7,6.8,6.7,6.4,6.3,6.2,6.2,5.9,6,
  5.8,5.5,5.6,5.9,6,6,5.8,6,5.6,5.4,5.6,5.2,4.8,4.4,3.9,4.2,5.1,5.3,5.8,6.8,
  7.1,7.6,8.2,8.1,7.9,7.3,7.4,6.8,6.6,6.4,6.1,5.7,5,4.6,4.7,4.8,5.3,5.8,6.2,6.4,
  6.6,6.4,6.3,5.5,4.8,4.5,4.9,4.8,4.6,4.7,4.4,4.1,3.9,3.9,4.1,5.4,5,4.7,4.5,4.4,
  4.5,4.6,5.1,5.3,5.1,5,5.1,5.5,5.9,6,9.6,9.2,7.4,5.9,5.7,5.9,6.7,7.2,7.7,8.7,
  10.3,11.1,11.2,11.1,11.3,11.4,11.2,11.3,11.5,11.9,12,12.4,12.1,12.3,12.5,13,12.9,12.8,11.6,10.2,
  8.6,8.3,8.3,8.6,8.6,8,8,9.3,11.9,13.2,12.4,12,12.9,12.4,12.7,11.2,10.1,9.6,10.7,12,
  11.4,10.1,8.9,8.8,9.2,9.3,9,9.4,10,9.7,9.1,8.4,7.6,7,6.5,6,5.4,5.2,4.8,4.5,
  4,3.7,3.9,4.2,2.7,1.9,1.3,2.9,4.4,6.2,5.8,4.9,4.9,7.1,5.4,4.9,4.6,4.5,4.5,4.1,
  6.5,8,7.6,5.8,5.4,5.5,5.9,6.3,6,6.2,6,5.5,5.1,5.2,5.1,5,4.9,5.7,6.3,7.4,
  11.9,9.5,7.9,8.1,7.3,7.1,7.9,8.7,5.1,5.6,8.4,11.4,13,12.3,11.4,10.6,10.2,10.5,11.7,11.2,
  10.4,10.1,9.4,9,8.7,8.5,8.2,8.3,8,7.8,7.4
];
const pitchCalE = [
  8.1,8.2,8.2,8.1,8.2,8.2,8.1,8.2,8.2,8.1,8.2,8.2,8.1,8.2,8.2,8.1,8.1,8.2,8.1,8,
  8,8,7.9,8.1,8.1,8,7,5.9,5.4,5.2,5.2,5.2,5.3,5.6,5.2,3.4,3.6,3.7,3.9,3.5,
  4,4,4.2,4.5,4.8,4.8,4.5,4.5,4.4,5,5.4,5.8,5.8,5.9,6.2,6.3,5.6,5.3,4.8,4,
  4.2,4.4,4.6,5.1,5.4,5.5,5.7,6,6.3,6.4,6.4,6.2,6,5.8,5.6,5.4,5.2,5.1,5,5,
  4.7,4.6,4.7,4.8,4.8,4.9,4.6,4.5,4.2,4.4,4.5,4.1,3.3,3.1,2.4,2.7,3.5,3.9,4.4,5.1,
  4.7,5.2,5.8,5.7,5,5.2,4.6,4.2,3.7,3.8,3.8,3.9,3.4,3.2,3.2,3.2,3.5,3.9,4,4,
  3.8,4.1,3.7,3.3,3.3,3,3.2,3.2,3.1,3,2.9,2.6,2.2,1.8,1.6,1.9,1.5,1.9,1.1,1.7,
  .9,1.7,1.7,2,2,1.9,1.9,2.4,2.5,2.5,4.3,3.5,3.7,3.4,3.1,3,3.3,4,4.7,6.3,
  8.8,9.5,9.6,9.6,9.7,9.9,9.7,9.7,9.8,10.2,10.1,10.5,9.9,10.1,10.4,10.8,10.9,10.4,9.7,8.7,
  5.1,5.8,5.1,5.9,5.1,3.8,3.7,5,7.4,10.1,10.3,10.2,10.5,9.8,9.4,7.9,7.3,7.7,8.7,9.8,
  8.2,7.5,6.8,6.6,6.6,6.7,6.9,6.8,7.3,7,6.1,4.9,3.4,3.2,2.8,2.3,1.8,1.5,1.9,1.3,
  .6,.8,1.1,1.2,-.1,-1.5,-1.9,-.9,.4,2.5,2.1,2,2.4,3.7,3.6,3.4,3.2,3.1,2.9,2.5,
  3.4,4.2,4,3.9,3.5,3.7,3.8,4,3.9,4,3.9,3.8,3.6,3.7,3.2,2.9,3.5,4,4.2,3.8,
  4.2,3.8,3.7,3.9,3.2,3.1,3.9,4.1,.5,3,6.3,9.3,10.6,10.1,9.1,8.6,8.3,8.6,9.3,9.3,
  8.6,8.2,7.7,7.4,7.4,7.1,7,7.1,6.9,6.7,6.1
];
const pitchCalF = [
  8.2,8.4,8.3,8.2,8.4,8.3,8.2,8.4,8.3,8.2,8.4,8.3,8.2,8.4,8.3,8.2,8.4,8.3,8.2,8.3,
  8.4,8.1,8.3,8.3,8.2,8.4,7.6,6.4,5.8,5.5,5.4,5.3,5.9,6.4,6.6,4.2,5.8,4,5.5,3.8,
  5.4,4.2,5.2,4.4,5.8,4.6,5.4,4.4,5.4,4.8,6.2,5.6,6.8,5.6,7.4,6,6.6,5,5.6,3.8,
  5.2,4.6,5.2,5,5.8,5.6,6.2,5.9,6.9,6.3,7,6,6.6,6,6.2,5.2,5.9,5.2,5.6,5.2,
  5.6,4.4,5.5,4.6,5.7,4.6,5.6,4.2,5.2,4.3,5.3,4,4.4,2.9,3.6,2.2,4.6,3.5,5,4.6,
  6.6,5,7.4,5.4,7.4,4.6,6.8,3.8,6,3.4,5.4,3.6,4.6,3,4.4,3,4.8,3.5,5.6,3.4,
  6,3.4,5.8,3,4.4,2.8,4.4,3,4.2,2.8,4,2.4,3.6,1.5,3.6,1,4.4,1.2,4,1.1,
  3.8,1,4.4,1.4,4.2,1.6,4.4,1.6,5.2,2,8.8,3,6.4,3,5,2.4,5.8,3.4,6.8,5.8,
  10.8,9.2,10.8,9.4,10.9,9.5,10.8,9.3,11,9.7,11.4,10,11.6,9.6,11.8,10.2,12.4,10,11,8.4,
  7.4,5.2,8,5.1,7.9,3,7.4,4,10,9,11.8,9.8,12.4,8.8,12.2,7,9.4,7.2,10.2,9.3,
  10.7,7,8.3,6,8.6,6,8.5,6.1,9.3,6.3,8.4,3.8,6.8,2.1,5.8,1.2,4.8,.4,4.1,.3,
  3.3,-.1,3.2,.2,2,-1,.8,-2.4,3.8,1.5,5,1,4.4,2.8,4.9,3.1,4.1,3,4,2,
  5.8,3.2,6.6,3.6,4.8,3.1,5.3,3.4,5.4,3.4,5.4,3.6,4.6,3.2,4.6,2.4,4.4,3.6,5.8,3,
  10.6,4.8,6.6,3,6.4,2.2,6.6,2.8,4.4,2.4,7.8,9.8,12.4,9.6,10.8,8.2,9.8,8,11,8.8,
  10,7.8,9,7.2,8.3,7,7.9,6.9,7.7,6.5,7.1
];
const pitchStrayTime = [51590,51566,51567,51566,51571,51571,51571,51627,51656,51804,51712,51735,51563,51541,51538,51545,51548];
const pitchStrayValue = [-8.3,-3.4,-4.2,-7,-5.5,-1,-.5,-2.8,1.2,-2.6,7.5,9,.4,-.6,0,-.8,-1.5];

const pitchBiasedHigh = [
  8.6,8.6,8.6,8.6,8.6,8.6,8.6,8.6,8.6,8.6,
  8.8,8.9,9,10,11,12.5,13.5,13,10.5,11.5,
  11,9.6,9.5,10,12.5,13,12.5,12.5,13.4,13.8,
  11,11,12,12.5,13,13.5,14,13.7,13.5,13,
  13,13,12.8,12.6,13.4,12.8,13.2,12.8,12,12.5,
  12.8,15,15.3,14.5,15.3,15.3,13.5,14,13,12.5,
  12.5,13.5,13.8,13.5,13,14,13.5,13,13,12.5,
  12.5,13.2,12.8,13,13.8,10,7,6,7.5,9,
  11,12,12,12.5,13,13,13,13.5,14,15,
  13,11,10.5,10.5,15.2,14,14,11,11,13.5,
  13,10.5,10.5,11.5,10,10,11,10.8,10.5,10,
  9,14.3,8,10.5,10.5,11,14,12.5,12,12.5,
  15.3,15.3,13.5,13.4,13,13,12.6,12.5,12.8,14,
  15.3,11,10,10.5,11,11,14.3,13.5,12,11.5,
  11,10,9.5,9.4,9,8
];
const pitchBiasedLow = [
  8.2,8.2,8.2,8.2,8.2,8.2,8.2,8.2,8.2,8.2,
  8.2,8.2,8.2,7.6,9,10.5,11,7.5,8.5,9,
  8.5,8,8,8.5,9.5,9.2,10,10,10.2,10.2,
  8.3,9.5,10.5,11,12,12.4,12.8,12.6,12,11.8,
  11,11.2,10.8,11,11,10.8,11,10.2,8.5,9.8,
  10,11,10.5,10.5,11,10.5,8.7,9.8,10,9.5,
  9.5,10,9.6,10,10,9.8,9.5,8.2,7.2,7,
  6.5,6,6.5,6.2,5,-11,-11,2.5,2,3,
  8,9,9,9,9,9.2,9,9,9,9.5,
  5,5,4.5,3.5,5,5,9,1.2,8,7,
  6,5.5,4.7,5,5,5,5,4.8,4.5,4,
  3.5,5,2.5,4,5,6,7,9.5,9,9,
  9,10,10,9,9.2,9.5,9.2,9,9.5,10,
  2,5,6,6,-2.5,3,9,9,7.5,7.5,
  7.2,7,6.8,6.8,6.5,5
];

const headingCal = [
  138,138,138,138,138,138,138,138,138,138,138,138,138,138,138,138,138,138,138,138,
  138,138,138,138,140,142,130,95,78,62,40,12,12,14,18,22,22,18,14,12,
  18,26,34,40,42,40,34,26,0,-30,-58,-72,-75,-76,-76,-76,-76,-76,-76,-74,
  -70,-65,-60,-52,-48,-45,-43,-42,-42,-42,-42,-42,-42,-42,-41,-41,-41,-41,-41,-42,
  -43,-48,-46,-42,-41,-41,-41,-41,-40,-40,-40,-39,-37,-37,-37,-39,-40,-40,-40,-40,
  -40,-40,-37,-40,-40,-41,-38,-38,-38,-38,-37,-38,-36,-35,-40,-38,-33,-36,-38,-38,
  -40,-40,-42,-42,-41,-44,-50,-50,-46,-36,-34,-30,-27,-24,-20,-14,-6,2,10,14,
  16,16,17,20,32,15,-25,-55,-110,-165,-155,-150,-155,-158,-157,-155,-153,-155,-162,-170,
  -176,176,172,168,160,155,155,152,145,135,132,130,135,132,130,130,135,135,145,172,
  -165,-130,-122,-125,-124,-122,-124,-135,-165,176,150,140,135,128,120,128,130,135,142,140,
  138,135,138,135,130,130,132,142,145,110,80,52,46,46,46,47,46,47,50,40,
  12,-15,-25,-5,30,45,48,48,48,48,48,47,25,-18,-38,-42,-42,-42,-42,-44,
  -43,-44,-46,-42,-40,-40,-42,-42,-41,-40,-40,-40,-41,-40,-40,-40,-40,-40,-60,-105,
  -125,-132,-133,-130,-110,-90,-105,-135,-165,178,160,140,133,130,130,133,135,136,133,130,
  133,132,130,130,130,130,130,131,133,132,130
];
// extra readings on the steep stretches of the heading
const headingSteepTime = [
  51321,51323,51325,51327,51329,51331,51347,51355,51363,51365,51367,51369,51371,51389,51529,
  51555,51557,51559,51561,51563,51565,51587,51589,51625,51627,51629,51643,51645,51647,51649,
  51685,51687,51689,51691,51705,51707,51709,51711,51713,51715,51717,51731,51733,51735,
  51785,51787,51795,51797,51799,51801,51803,51805,51807,51809,51811
];
const headingSteepValue = [
  112,86,70,52,26,12,15,41,14,-15,-44,-65,-74,-68,-35,
  26,24,-5,-40,-80,-140,-166,-174,160,-175,-148,-130,-150,162,146,
  128,96,66,50,46,26,-2,-22,-16,12,38,37,4,-28,
  -82,-116,-121,-100,-96,-96,-120,-150,168,150,136
];
const headingStrayTime = [51567,51567,51568,51569,51570,51571,51572,51567,51570,51568,51570,51589,51589,51589,51589,51626,51645,51645,51805,51807];
const headingStrayValue = [176,165,170,160,155,150,148,134,68,46,24,147,-77,-130,176,-172,-175,-168,-176,176];

const headingBiasedTime = [
  51269,51318,51322,51330,51339,51346,51355,51360,51364,51368,51372,51384,51396,51402,51430,51521,51534,51556,51562,51566,
  51567,51567.5,51568.5,51569,51570,51570.5,51571.5,51572,51573,51585,51589,
  51590,51590.4,51590.8,51596,51600,51606,51622,51626,51626.5,51630,51643,51645.5,51645.8,
  51648,51656,51665,51680,51684,51690,51705,51711,51717,51730,51735,51783,51787,51795,51798,51801,51805.5,51806.2,51810,51850
];
const headingBiased = [
  135,139,92,10,20,10,40,30,-2,-58,-72,-77,-49,-43,-42,-42,-27,30,-56,-170,
  178,-178,178,-178,178,-178,178,-178,-156,-156,-178,
  -178,178,172,158,150,134,132,178,-178,-124,-124,-178,178,
  148,118,140,130,143,48,48,-26,46,46,-43,-43,-120,-135,-92,-128,-178,178,138,128
];

const FONT = '"Liberation Sans", Arial, sans-serif';
const BLUE = '#0000ff';
const RED = '#ff0000';
const GREY = '#808080';

function toPoints(xs, ys) {
  return xs.map((x, i) => ({ x: x, y: ys[i] }));
}

// readings fall one after the other inside each 2 s window, so walk through them in turn
function cloud(rows) {
  const points = [];
  time.forEach((t, i) => {
    rows.forEach((row, j) => {
      points.push({ x: t + j * 2 / rows.length, y: rows[(i + j) % rows.length][i] });
    });
  });
  return points;
}

// one vertical stroke per sample, from the top to the bottom of the trace
function columns(xs, high, low) {
  const points = [];
  xs.forEach((x, i) => {
    points.push({ x: x, y: high[i] });
    points.push({ x: x, y: low[i] });
    points.push({ x: x, y: null });
  });
  return points;
}

function ringImage() {
  const c = document.createElement('canvas');
  c.width = 12;
  c.height = 12;
  const ctx = c.getContext('2d');
  ctx.strokeStyle = BLUE;
  ctx.lineWidth = 2.4;
  ctx.beginPath();
  ctx.arc(6, 6, 3.4, 0, Math.PI * 2);
  ctx.stroke();
  return c;
}

function lineImage() {
  const c = document.createElement('canvas');
  c.width = 48;
  c.height = 4;
  const ctx = c.getContext('2d');
  ctx.fillStyle = RED;
  ctx.fillRect(0, 0, 48, 4);
  return c;
}

function markers(data, fill) {
  return {
    type: 'scatter', data: data, showLine: false, order: 1, clip: false,
    pointRadius: fill ? 3.2 : 3.1, pointBorderWidth: fill ? 2.8 : 2.5, pointBorderColor: BLUE,
    pointBackgroundColor: fill || '#fff', pointHoverRadius: 3
  };
}

function trace(data, width) {
  return {
    type: 'scatter', data: data, showLine: true, order: 2, tension: 0,
    borderColor: RED, borderWidth: width, pointRadius: 0,
    clip: { left: 0, right: 0, top: 4, bottom: 5 }
  };
}

function makePanel(id, p) {
  new Chart(document.getElementById(id), {
    type: 'scatter',
    data: { datasets: p.datasets },
    plugins: [{
      // push the plot down from the legend
      id: 'legendGap',
      beforeInit(chart) {
        const fit = chart.legend.fit;
        chart.legend.fit = function() {
          fit.call(this);
          this.height += p.legendGap;
        };
      }
    }],
    options: {
      responsive: false,
      animation: false,
      events: [],
      layout: { padding: { left: 0, right: p.right, top: p.top, bottom: p.bottom } },
      plugins: {
        tooltip: { enabled: false },
        legend: {
          position: 'top',
          fullSize: false,
          labels: {
            usePointStyle: true,
            pointStyleWidth: 39,
            boxHeight: 12,
            padding: 16.5,
            color: '#000',
            font: { family: FONT, size: p.legendSize, weight: 'bold' },
            generateLabels() {
              return [
                { text: p.calName, pointStyle: ringImage(), lineWidth: 0, fontColor: '#000', datasetIndex: 0, hidden: false },
                { text: p.biasedName, pointStyle: lineImage(), lineWidth: 0, fontColor: '#000', datasetIndex: 0, hidden: false }
              ];
            }
          }
        }
      },
      scales: {
        x: {
          type: 'linear', min: 51250, max: 51850,
          afterBuildTicks(s) { s.ticks = xTicks.map(v => ({ value: v })); },
          afterFit(s) {
            // the plot keeps its own margins, last label may hang over
            s.paddingLeft = 0;
            s.paddingRight = 0;
            if (p.showX) s.height = 96;
          },
          grid: {
            color: c => (c.tick && c.tick.value === 51850 ? GREY : 'transparent'),
            lineWidth: 2, drawTicks: false
          },
          border: { color: GREY, width: 2 },
          ticks: {
            display: p.showX, autoSkip: false, maxRotation: 0, padding: 24, color: '#000',
            font: { family: FONT, size: 25, weight: 'bold' },
            callback: v => String(v)
          },
          title: {
            display: p.showX, text: 'Time (s)', color: '#000', padding: { top: 0, bottom: -2 },
            font: { family: FONT, size: 23.5, weight: 'bold' }
          }
        },
        // small tick marks hanging off the zero line
        xZero: {
          type: 'linear', axis: 'x', position: { y: 0 }, min: 51250, max: 51850,
          afterBuildTicks(s) { s.ticks = xTicks.map(v => ({ value: v })); },
          grid: { drawOnChartArea: false, tickColor: '#000', tickLength: 8, tickWidth: 1 },
          border: { display: false },
          ticks: { display: false }
        },
        y: {
          min: p.yTicks[0], max: p.yTicks[p.yTicks.length - 1],
          afterBuildTicks(s) { s.ticks = p.yTicks.map(v => ({ value: v })); },
          afterFit(s) { s.width = p.left; },
          grid: { color: GREY, lineWidth: 2, tickColor: '#000', tickWidth: 1, tickLength: p.tickLength },
          border: { color: '#000', width: 1.5 },
          ticks: {
            color: '#000', padding: p.tickPad, autoSkip: false,
            font: { family: FONT, size: p.tickSize, weight: 'bold' }
          },
          title: {
            display: true, text: p.yTitle, color: '#000',
            padding: { top: p.titlePad, bottom: 0 },
            font: { family: FONT, size: p.titleSize, weight: 'bold' }
          }
        }
      }
    }
  });
}

const coarseTime = time.filter((t, i) => i % 2 === 0);
// quiet start of the roll trace is a solid band, later it breaks into separate spikes
const rollQuiet = 36;

makePanel('rollChart', {
  calName: 'Roll-Calibrated', biasedName: 'Roll-Biased', yTitle: 'Roll (deg)', yTicks: rollTicks,
  left: 105, right: 24, top: 0, bottom: 16, legendGap: 39, titlePad: 20, showX: false,
  legendSize: 22, tickSize: 20.5, tickLength: 6, tickPad: 10, titleSize: 22,
  datasets: [
    markers(cloud([rollCalA, rollCalD, rollCalG, rollCalC, rollCalE, rollCalF, rollCalB, rollCalH])),
    markers(toPoints(rollStrayTime, rollStrayValue)),
    trace(columns(coarseTime.slice(0, rollQuiet), rollBiasedHigh.slice(0, rollQuiet), rollBiasedLow.slice(0, rollQuiet)), 7.2),
    trace(columns(coarseTime.slice(rollQuiet), rollBiasedHigh.slice(rollQuiet), rollBiasedLow.slice(rollQuiet)), 6)
  ]
});

makePanel('pitchChart', {
  calName: 'Pitch-Calibrated', biasedName: 'Pitch-Biased', yTitle: 'Pitch (deg)', yTicks: pitchTicks,
  left: 108, right: 33, top: 0, bottom: 15, legendGap: 41, titlePad: 14, showX: false,
  legendSize: 23.7, tickSize: 23, tickLength: 9, tickPad: 13, titleSize: 23,
  datasets: [
    markers(cloud([pitchCalA, pitchCalC, pitchCalD, pitchCalF, pitchCalE, pitchCalB])),
    markers(toPoints(pitchStrayTime, pitchStrayValue)),
    trace(columns(coarseTime, pitchBiasedHigh, pitchBiasedLow), 7.1)
  ]
});

makePanel('headingChart', {
  calName: 'Heading-Calibrated', biasedName: 'Heading-Biased', yTitle: 'Heading (deg)', yTicks: headingTicks,
  left: 116, right: 39, top: 3, bottom: 0, legendGap: 39, titlePad: 7, showX: true,
  legendSize: 23.7, tickSize: 23.4, tickLength: 8, tickPad: 13, titleSize: 23.4,
  datasets: [
    markers(toPoints(time, headingCal), BLUE),
    markers(toPoints(headingSteepTime, headingSteepValue), BLUE),
    markers(toPoints(headingStrayTime, headingStrayValue)),
    trace(toPoints(headingBiasedTime, headingBiased), 4)
  ]
});
</script>
</body>
</html>
